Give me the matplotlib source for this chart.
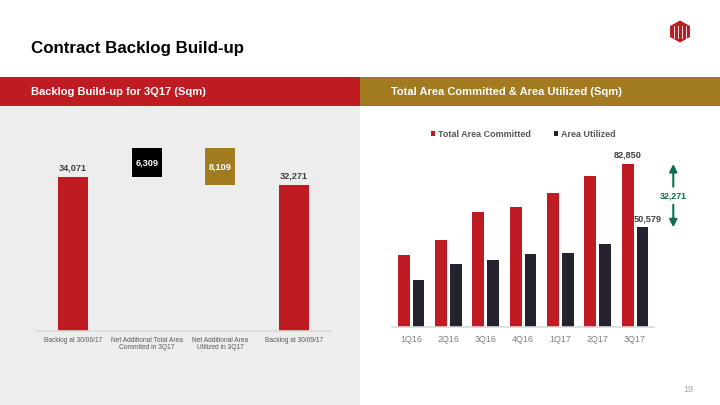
import matplotlib
matplotlib.use("Agg")
import matplotlib.pyplot as plt
from matplotlib.patches import Rectangle, Polygon
import numpy as np

plt.rcParams['font.family'] = ['Liberation Sans', 'DejaVu Sans']

# ---------------- data ----------------
waterfall_labels = ["Backlog at 30/06/17", "Net Additional Total Area\nCommited in 3Q17",
                    "Net Additional Area\nUtilized in 3Q17", "Backlog at 30/09/17"]
backlog_start = 34071
net_committed = 6309
net_utilized = 8109
backlog_end = 32271

quarters = ["1Q16", "2Q16", "3Q16", "4Q16", "1Q17", "2Q17", "3Q17"]
total_committed = [36500, 44150, 58400, 60950, 68080, 76740, 82850]
area_utilized = [23780, 31920, 33960, 37020, 37530, 42110, 50579]

# ---------------- style ----------------
RED = "#BE1B22"
GOLD = "#A27A1F"
DARK = "#22232E"
GREEN = "#0B6E4F"
PANEL = "#EDEDED"
AXIS = "#D9D9D9"

W, H = 720, 405
fig = plt.figure(figsize=(7.2, 4.05), dpi=100)
fig.patch.set_facecolor("white")

def fx(px):
    return px / W

def fy(py):
    return 1 - py / H

# background panels / header bars
fig.add_artist(Rectangle((0, 0), fx(360), fy(106), transform=fig.transFigure,
                         facecolor=PANEL, edgecolor="none", zorder=0))
fig.add_artist(Rectangle((0, fy(106)), fx(360), fy(77) - fy(106), transform=fig.transFigure,
                         facecolor=RED, edgecolor="none", zorder=0))
fig.add_artist(Rectangle((fx(360), fy(106)), fx(360), fy(77) - fy(106), transform=fig.transFigure,
                         facecolor=GOLD, edgecolor="none", zorder=0))

fig.text(fx(31), fy(49), "Contract Backlog Build-up", fontsize=12.2, fontweight="bold",
         color="black", va="center", ha="left")
fig.text(fx(31), fy(92), "Backlog Build-up for 3Q17 (Sqm)", fontsize=8, fontweight="bold",
         color="white", va="center", ha="left")
fig.text(fx(391), fy(92), "Total Area Committed & Area Utilized (Sqm)", fontsize=8,
         fontweight="bold", color="white", va="center", ha="left")
fig.text(fx(688), fy(389), "19", fontsize=6.5, color="#A6A6A6", va="center", ha="center")

# logo (hexagon with white strokes)
cx, cy, rx, ry = 680, 31.5, 11.5, 11
hexpts = [(fx(cx + rx * np.cos(a)), fy(cy + ry * np.sin(a)))
          for a in np.deg2rad([30, 90, 150, 210, 270, 330])]
fig.add_artist(Polygon(hexpts, closed=True, transform=fig.transFigure,
                       facecolor=RED, edgecolor="none", zorder=2))
for x0 in (674, 678, 682, 686):
    fig.add_artist(plt.Line2D([fx(x0), fx(x0)], [fy(26), fy(38)], transform=fig.transFigure,
                              color="white", lw=0.6, zorder=3))

# ---------------- left: waterfall ----------------
axL = fig.add_axes([fx(36), fy(331), fx(331) - fx(36), fy(110) - fy(331)])
axL.set_facecolor("none")
xl = np.arange(len(waterfall_labels))
bw = 0.41
axL.bar(xl[0], backlog_start, width=bw, color=RED, zorder=2)
axL.bar(xl[1], net_committed, bottom=backlog_start, width=bw, color="black", zorder=2)
axL.bar(xl[2], net_utilized, bottom=backlog_start + net_committed - net_utilized,
        width=bw, color=GOLD, zorder=2)
axL.bar(xl[3], backlog_end, width=bw, color=RED, zorder=2)

for xi, v in ((xl[0], backlog_start), (xl[3], backlog_end)):
    axL.annotate(f"{v:,}", (xi, v), xytext=(0, 3.2), textcoords="offset points",
                 ha="center", va="bottom", fontsize=6.6, fontweight="bold", color="#404040")
axL.text(xl[1], backlog_start + net_committed / 2, f"{net_committed:,}", ha="center",
         va="center", fontsize=6.6, fontweight="bold", color="white", zorder=3)
axL.text(xl[2], backlog_start + net_committed - net_utilized / 2, f"{net_utilized:,}",
         ha="center", va="center", fontsize=6.6, fontweight="bold", color="white", zorder=3)

axL.set_xlim(-0.5, 3.5)
axL.set_ylim(0, 48850)
axL.set_xticks(xl)
axL.set_xticklabels(waterfall_labels, fontsize=4.8, color="#595959", linespacing=1.15)
axL.set_yticks([])
axL.tick_params(axis="x", length=0, pad=4)
for s in ("left", "right", "top"):
    axL.spines[s].set_visible(False)
axL.spines["bottom"].set_color(AXIS)
axL.spines["bottom"].set_linewidth(1.2)

# ---------------- right: grouped bars ----------------
axR = fig.add_axes([fx(392.2), fy(326.7), fx(653.5) - fx(392.2), fy(120) - fy(326.7)])
axR.set_facecolor("none")
xr = np.arange(len(quarters))
w = 0.32
b1 = axR.bar(xr - 0.195, total_committed, width=w, color=RED, label="Total Area Committed", zorder=2)
b2 = axR.bar(xr + 0.205, area_utilized, width=w, color=DARK, label="Area Utilized", zorder=2)

axR.annotate(f"{total_committed[-1]:,}", (xr[-1] - 0.195, total_committed[-1]),
             xytext=(0, 3), textcoords="offset points", ha="center", va="bottom",
             fontsize=6.6, fontweight="bold", color="#404040")
axR.annotate(f"{area_utilized[-1]:,}", (xr[-1] + 0.205, area_utilized[-1]),
             xytext=(4, 3), textcoords="offset points", ha="center", va="bottom",
             fontsize=6.6, fontweight="bold", color="#404040")

# difference arrows
diff = total_committed[-1] - area_utilized[-1]
mid = (total_committed[-1] + area_utilized[-1]) / 2
xa = 7.03
gap = 4600
for tip, start in ((total_committed[-1], mid + gap), (area_utilized[-1], mid - gap)):
    axR.annotate("", xy=(xa, tip), xytext=(xa, start),
                 arrowprops=dict(arrowstyle="-|>,head_length=0.5,head_width=0.25",
                                 color=GREEN, lw=1.5, mutation_scale=9,
                                 shrinkA=0, shrinkB=0), annotation_clip=False)
axR.text(xa, mid, f"{diff:,}", ha="center", va="center", fontsize=6.4,
         fontweight="bold", color=GREEN, clip_on=False)

axR.set_xlim(-0.5, 6.5)
axR.set_ylim(0, 105250)
axR.set_xticks(xr)
axR.set_xticklabels(quarters, fontsize=6.4, color="#7F7F7F")
axR.set_yticks([])
axR.tick_params(axis="x", length=0, pad=6)
for s in ("left", "right", "top"):
    axR.spines[s].set_visible(False)
axR.spines["bottom"].set_color(AXIS)
axR.spines["bottom"].set_linewidth(1.2)

leg = axR.legend(handles=[b1, b2], loc="center", bbox_to_anchor=(fx(523), fy(134.3)),
                 bbox_transform=fig.transFigure, ncol=2, frameon=False,
                 handlelength=0.45, handleheight=0.45, handletextpad=0.3,
                 columnspacing=2.6, borderpad=0, prop=dict(size=6.5, weight="bold"))
for t in leg.get_texts():
    t.set_color("#595959")

fig.savefig("out.png", dpi=100, facecolor=fig.get_facecolor())
